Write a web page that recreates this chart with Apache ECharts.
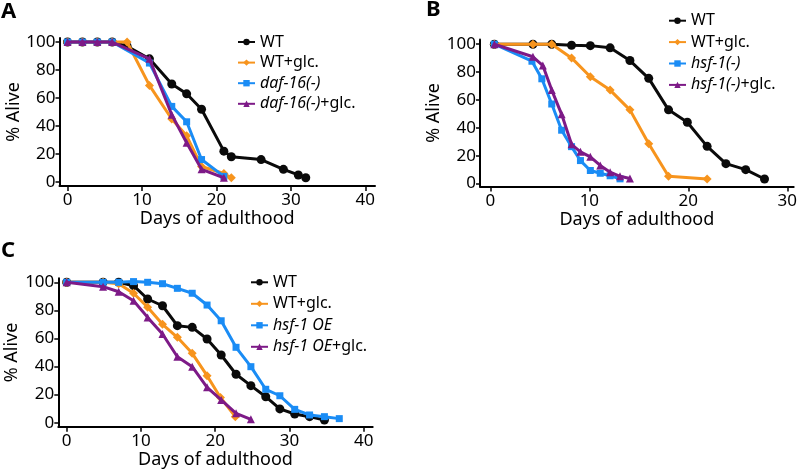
<!DOCTYPE html>
<html>
<head>
<meta charset="utf-8">
<script src="https://cdn.jsdelivr.net/npm/echarts@6/dist/echarts.min.js"></script>
<style>html,body{margin:0;padding:0;background:#fff}#c{width:800px;height:472px}</style>
</head>
<body>
<div id="c"></div>
<script>
// ---------- Data ----------
const xTicksAC = [0, 10, 20, 30, 40];
const xTicksB = [0, 10, 20, 30];
const yTicks = [0, 20, 40, 60, 80, 100];

// Panel A
const A_WT = [[0,100],[2,100],[4,100],[6,100],[8,97],[11,88],[14,70],[16,63],[18,52],[21,22],[22,18],[26,16],[29,9],[31,5],[32,3]];
const A_WTglc = [[0,100],[2,100],[4,100],[6,100],[8,100],[11,69],[14,45],[16,33],[18,11],[21,6],[22,3]];
const A_daf = [[0,100],[2,100],[4,100],[6,100],[11,85],[14,54],[16,43],[18,16],[21,4]];
const A_dafglc = [[0,100],[2,100],[4,100],[6,100],[11,88],[14,48],[16,28],[18,9],[21,3]];

// Panel B
const B_WT = [[0.4,100],[4.3,100],[6.2,100],[8.2,99.3],[10.1,99],[12.1,97.4],[14.1,88.3],[16,75.5],[18,52.9],[19.9,44],[21.9,26.7],[23.8,14.3],[25.8,10],[27.7,3.3]];
const B_WTglc = [[0.4,100],[4.3,100],[6.2,100],[8.2,90.2],[10.1,76.7],[12.1,67.1],[14.1,52.9],[16,28.6],[18,5.2],[21.9,3.3]];
const B_hsf = [[0.4,100],[4.2,87.8],[5.2,75.2],[6.2,57.1],[7.2,38.3],[8.2,26.5],[9.1,16.5],[10.1,9.4],[11.1,7.4],[12.1,5.6],[13.1,3.4]];
const B_hsfglc = [[0.4,100],[4.3,91],[5.3,84.7],[6.2,67.1],[7.2,49.7],[8.2,28.2],[9.1,22.8],[10.1,19.2],[11.1,13],[12.1,8.2],[13.1,5.2],[14.1,3.6]];

// Panel C
const C_WT = [[0,100],[4.9,100],[7,100],[9,97.6],[10.9,88.1],[12.9,83.3],[14.9,69.1],[16.9,67.9],[18.9,59.6],[20.8,48.2],[22.8,34.5],[24.8,26.4],[26.8,18.5],[28.7,9.8],[30.7,6.2],[32.7,4.3],[34.7,1.9]];
const C_WTglc = [[0,100],[4.9,100],[7,99],[9,92.2],[10.9,82.2],[12.9,70.1],[14.9,60.8],[16.9,49.4],[18.9,33.5],[20.7,18],[22.7,4.3]];
const C_oe = [[0,100],[4.9,100],[7,100],[9,100.5],[10.9,100],[12.9,99],[14.9,95.7],[16.9,92.2],[18.9,83.8],[20.8,72.6],[22.8,53.7],[24.8,39.9],[26.8,23.8],[28.7,19.2],[30.7,9.5],[32.7,5.5],[34.7,4.3],[36.7,2.9]];
const C_oeglc = [[0,100],[4.9,96.9],[7,93.3],[9,86.9],[10.9,75],[12.9,63.2],[14.9,47],[16.9,39.9],[18.9,25.2],[20.8,16.2],[22.8,6.7],[24.8,2.4]];

const legendA = ['WT', 'WT+glc.', 'daf-16(-)', 'daf-16(-)+glc.'];
const legendB = ['WT', 'WT+glc.', 'hsf-1(-)', 'hsf-1(-)+glc.'];
const legendC = ['WT', 'WT+glc.', 'hsf-1 OE', 'hsf-1 OE+glc.'];

// ---------- Styling ----------
const FONT = 'Noto Sans';
const COLORS = ['#0a0a0a', '#f7941d', '#1a8cf5', '#7d1a87'];
const SYMBOLS = ['circle', 'diamond', 'rect', 'triangle'];
const SIZES = [9, 9, 7, 8];

function xAxis(gi, min, max, ticks) {
  return {
    type: 'value', gridIndex: gi, min: min, max: max,
    name: 'Days of adulthood', nameLocation: 'middle', nameGap: 24,
    nameTextStyle: { fontFamily: FONT, fontSize: 18, color: '#000' },
    axisLine: { show: true, onZero: false, lineStyle: { color: '#000', width: 2 } },
    axisTick: { show: true, length: 5, lineStyle: { color: '#000', width: 1.5 }, customValues: ticks },
    axisLabel: { fontFamily: FONT, fontSize: 17, color: '#000', margin: 6, customValues: ticks },
    splitLine: { show: false }
  };
}
function yAxis(gi, min, max) {
  return {
    type: 'value', gridIndex: gi, min: min, max: max,
    name: '% Alive', nameLocation: 'middle', nameGap: 34, nameRotate: 90,
    nameTextStyle: { fontFamily: FONT, fontSize: 18, color: '#000' },
    axisLine: { show: true, onZero: false, lineStyle: { color: '#000', width: 2 } },
    axisTick: { show: true, length: 4, lineStyle: { color: '#000', width: 1.5 }, customValues: yTicks },
    axisLabel: { fontFamily: FONT, fontSize: 17, color: '#000', margin: 4, customValues: yTicks },
    splitLine: { show: false }
  };
}
function mkSeries(prefix, labels, datas, gi) {
  return datas.map((d, i) => ({
    name: prefix + labels[i], type: 'line', xAxisIndex: gi, yAxisIndex: gi,
    data: d, symbol: SYMBOLS[i], symbolSize: SIZES[i], showAllSymbol: true,
    color: COLORS[i], lineStyle: { width: 3, color: COLORS[i] },
    itemStyle: { color: COLORS[i] }, z: 2 + i, animation: false
  }));
}
const italicMap = {
  'daf-16(-)': '{i|daf-16(-)}', 'daf-16(-)+glc.': '{i|daf-16(-)}+glc.',
  'hsf-1(-)': '{i|hsf-1(-)}', 'hsf-1(-)+glc.': '{i|hsf-1(-)}+glc.',
  'hsf-1 OE': '{i|hsf-1 OE}', 'hsf-1 OE+glc.': '{i|hsf-1 OE}+glc.'
};
function mkLegend(prefix, labels, left, top, gap) {
  return {
    orient: 'vertical', left: left, top: top, padding: 0,
    itemWidth: 17, itemHeight: 8, itemGap: gap,
    selectedMode: false,
    data: labels.map(l => prefix + l),
    formatter: function (n) { const l = n.slice(2); return italicMap[l] || l; },
    textStyle: { fontFamily: FONT, fontSize: 16, color: '#000', lineHeight: 16,
      rich: { i: { fontFamily: FONT, fontSize: 16, fontStyle: 'italic', color: '#000', lineHeight: 16 } } }
  };
}

const option = {
  animation: false,
  backgroundColor: '#fff',
  title: [
    { text: 'A', left: 1, top: 1, padding: 0, textStyle: { fontFamily: FONT, fontWeight: 'bold', fontSize: 22, color: '#000' } },
    { text: 'B', left: 426, top: -1, padding: 0, textStyle: { fontFamily: FONT, fontWeight: 'bold', fontSize: 22, color: '#000' } },
    { text: 'C', left: 1, top: 240, padding: 0, textStyle: { fontFamily: FONT, fontWeight: 'bold', fontSize: 22, color: '#000' } }
  ],
  grid: [
    { left: 59.5, top: 38, right: 425, bottom: 286, containLabel: false },
    { left: 480, top: 39.5, right: 3, bottom: 285.5, containLabel: false },
    { left: 58.3, top: 278.3, right: 427.3, bottom: 45.3, containLabel: false }
  ],
  xAxis: [xAxis(0, -1.08, 41.3, xTicksAC), xAxis(1, -1.05, 30.65, xTicksB), xAxis(2, -1.13, 41.2, xTicksAC)],
  yAxis: [yAxis(0, -2.9, 102.9), yAxis(1, -2.1, 103.4), yAxis(2, -2.85, 102.85)],
  legend: [
    mkLegend('A_', legendA, 237, 34, 4.6),
    mkLegend('B_', legendB, 668, 12.7, 5.4),
    mkLegend('C_', legendC, 250, 274.3, 5.5)
  ],
  series: [].concat(
    mkSeries('A_', legendA, [A_WT, A_WTglc, A_daf, A_dafglc], 0),
    mkSeries('B_', legendB, [B_WT, B_WTglc, B_hsf, B_hsfglc], 1),
    mkSeries('C_', legendC, [C_WT, C_WTglc, C_oe, C_oeglc], 2)
  )
};
const chart = echarts.init(document.getElementById('c'), null, { renderer: 'canvas' });
chart.setOption(option);
</script>
</body>
</html>
